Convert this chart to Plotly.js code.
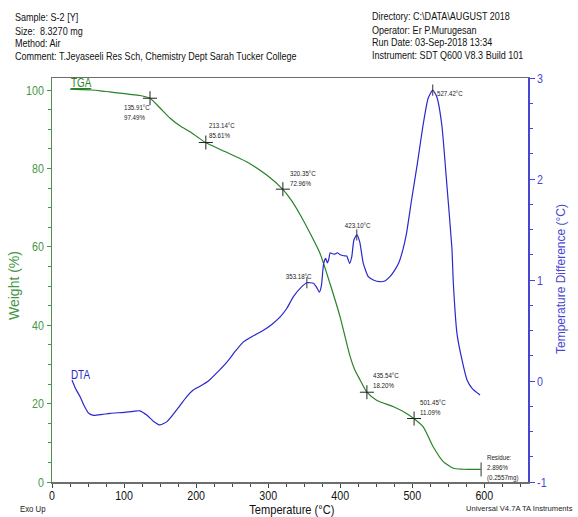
<!DOCTYPE html>
<html>
<head>
<meta charset="utf-8">
<script src="https://cdn.plot.ly/plotly-3.0.1.min.js"></script>
<style>html,body{margin:0;padding:0;background:#fff;}#chart{width:578px;height:517px;}</style>
</head>
<body>
<div id="chart"></div>
<script>
// ---- TGA (Weight %) ----
var tgaT = [25, 40, 55, 67, 80, 94, 108, 122, 136, 150, 164, 178, 191, 202, 213, 240, 270, 298, 320, 332, 345, 360, 372, 386, 400, 413, 420, 428, 437, 451, 474, 492, 502, 515, 529, 543, 557, 570, 595];
var tgaW = [100.2, 100.1, 100.0, 99.8, 99.5, 99.2, 98.9, 98.6, 97.9, 95.4, 92.8, 90.8, 89.4, 88.0, 86.6, 84.3, 81.7, 78.3, 74.7, 71.9, 68.0, 62.8, 58.3, 50.5, 42.0, 32.5, 28.7, 25.9, 22.9, 20.8, 19.2, 17.5, 16.2, 14.1, 9.0, 5.2, 3.5, 3.25, 3.2];

// ---- DTA (Temperature Difference °C) ----
var dtaT = [27.7, 33, 39, 45, 51, 58, 70, 81, 100, 113, 122, 132, 141, 150, 160, 173, 187, 196, 206, 217, 230, 243, 255, 266, 280, 294, 305, 317, 326, 335, 346, 354, 363, 367, 371, 374, 377, 380, 382, 384, 386, 389, 393, 396, 400, 405, 409, 413, 416, 419, 423, 427, 432, 439, 446, 455, 462, 469, 475, 481, 487, 492, 499, 507, 515, 522, 528.4, 534, 541, 548, 555, 557, 562, 569, 576, 583, 594];
var dtaV = [0.01, -0.08, -0.155, -0.25, -0.32, -0.34, -0.33, -0.32, -0.31, -0.30, -0.295, -0.34, -0.40, -0.435, -0.40, -0.287, -0.155, -0.09, -0.05, 0.0, 0.09, 0.19, 0.30, 0.39, 0.45, 0.505, 0.56, 0.637, 0.72, 0.835, 0.93, 0.973, 0.967, 0.93, 0.88, 0.95, 1.165, 1.215, 1.17, 1.2, 1.27, 1.26, 1.257, 1.27, 1.25, 1.24, 1.238, 1.165, 1.23, 1.396, 1.446, 1.38, 1.165, 1.033, 1.0, 0.983, 0.99, 1.033, 1.09, 1.165, 1.3, 1.462, 1.792, 2.15, 2.535, 2.8, 2.88, 2.815, 2.535, 1.941, 1.314, 0.967, 0.472, 0.208, 0.01, -0.072, -0.139];

// ---- TGA step marks ----
var markT = [136, 213.5, 320.4, 437, 502.5];
var markW = [97.9, 86.6, 74.7, 22.9, 16.2];
var markLabels = ["135.91°C<br>97.49%", "213.14°C<br>85.61%", "320.35°C<br>72.96%", "435.54°C<br>18.20%", "501.45°C<br>11.09%"];

// ---- Residue ----
var residueT = [595.5];
var residueW = [3.2];
var residueLabel = "Residue:<br>2.896%<br>(0.2557mg)";

// ---- DTA peaks ----
var peakT = [353.7, 423, 528.4];
var peakV = [0.973, 1.446, 2.88];
var peakLabels = ["353.18°C", "423.10°C", "527.42°C"];

// ---- Axis ticks ----
var xTicks = [0, 100, 200, 300, 400, 500, 600];
var yTicks = [0, 20, 40, 60, 80, 100];
var y2Ticks = [-1, 0, 1, 2, 3];

// ---- Header text ----
var headerLeft = ["Sample: S-2 [Y]", "Size:  8.3270 mg", "Method: Air", "Comment: T.Jeyaseeli Res Sch, Chemistry Dept Sarah Tucker College"];
var headerRight = ["Directory: C:\\DATA\\AUGUST 2018", "Operator: Er P.Murugesan", "Run Date: 03-Sep-2018 13:34", "Instrument: SDT Q600 V8.3 Build 101"];

var NARROW = "Liberation Sans, Arial, sans-serif";
var SANS = "Arial, Liberation Sans, sans-serif";
var GREEN = "rgb(40,130,40)";
var GREEN_AX = "rgb(70,150,70)";
var BLUE = "rgb(40,40,205)";
var BLUE_AX = "rgb(70,70,210)";

// style offsets (pixels) for labels
var markShift = [[-27.7, -14.7], [1, 11.8], [5, 10.5], [4, 11.5], [4.3, 11.3]];
var peakShift = [[-8, 6, "center"], [1, 9, "center"], [2, -3, "left"]];

var traces = [
  {x: tgaT, y: tgaW, type: "scatter", mode: "lines", line: {color: GREEN, width: 1.2, shape: "spline", smoothing: 0.6}, yaxis: "y", hoverinfo: "skip"},
  {x: dtaT, y: dtaV, type: "scatter", mode: "lines", line: {color: BLUE, width: 1.2, shape: "spline", smoothing: 0.5}, yaxis: "y2", hoverinfo: "skip"},
  {x: markT, y: markW, type: "scatter", mode: "markers", marker: {symbol: "cross-thin", size: 10, line: {color: "#222", width: 1}}, yaxis: "y"},
  {x: residueT, y: residueW, type: "scatter", mode: "markers", marker: {symbol: "line-ns", size: 10, line: {color: "#333", width: 1}}, yaxis: "y"},
  {x: peakT, y: peakV, type: "scatter", mode: "markers", marker: {symbol: "line-ns", size: 8, line: {color: "#333", width: 1}}, yaxis: "y2"}
];

var annotations = [];
function paperX(px) { return (px - 52) / 476; }
function paperY(py) { return (482 - py) / 404; }
var leftY = [17.5, 30.5, 43, 55.5];
for (var i = 0; i < headerLeft.length; i++) {
  annotations.push({xref: "paper", yref: "paper", x: paperX(12.5), y: paperY(leftY[i]), xanchor: "left", align: "left", yanchor: "middle", text: headerLeft[i], showarrow: false, font: {family: NARROW, size: 11, color: "#111"}});
  annotations.push({xref: "paper", yref: "paper", x: paperX(369.5), y: paperY(leftY[i] - 1), xanchor: "left", align: "left", yanchor: "middle", text: headerRight[i], showarrow: false, font: {family: NARROW, size: 11, color: "#111"}});
}
for (var j = 0; j < markT.length; j++) {
  annotations.push({x: markT[j], y: markW[j], xref: "x", yref: "y", text: markLabels[j], showarrow: false, xanchor: "left", yanchor: "middle", xshift: markShift[j][0], yshift: markShift[j][1], align: "left", font: {family: NARROW, size: 7.5, color: "#222"}});
}
annotations.push({x: residueT[0], y: residueW[0], xref: "x", yref: "y", text: residueLabel, showarrow: false, xanchor: "left", yanchor: "middle", xshift: 4, yshift: 2, align: "left", font: {family: NARROW, size: 7.5, color: "#222"}});
for (var k = 0; k < peakT.length; k++) {
  annotations.push({x: peakT[k], y: peakV[k], xref: "x", yref: "y2", text: peakLabels[k], showarrow: false, xanchor: peakShift[k][2], align: peakShift[k][2], yanchor: "middle", xshift: peakShift[k][0], yshift: peakShift[k][1], font: {family: NARROW, size: 7.5, color: "#222"}});
}
annotations.push({x: tgaT[0], y: tgaW[0], xref: "x", yref: "y", text: "<u>TGA</u>", showarrow: false, xanchor: "left", align: "left", yanchor: "bottom", xshift: -1, yshift: -3, font: {family: NARROW, size: 12, color: GREEN}});
annotations.push({x: dtaT[0], y: dtaV[0], xref: "x", yref: "y2", text: "DTA", showarrow: false, xanchor: "left", align: "left", yanchor: "middle", xshift: -3, yshift: 5, font: {family: NARROW, size: 12, color: BLUE}});
// axis titles
annotations.push({xref: "paper", yref: "paper", x: paperX(14), y: paperY(286), textangle: -90, text: "Weight (%)", showarrow: false, xanchor: "center", yanchor: "middle", font: {family: SANS, size: 14, color: GREEN_AX}});
annotations.push({xref: "paper", yref: "paper", x: paperX(561), y: paperY(279), textangle: -90, text: "Temperature Difference (°C)", showarrow: false, xanchor: "center", yanchor: "middle", font: {family: SANS, size: 12, color: BLUE_AX}});
annotations.push({xref: "paper", yref: "paper", x: paperX(292), y: paperY(509), text: "Temperature (°C)", showarrow: false, xanchor: "center", yanchor: "middle", font: {family: NARROW, size: 13.5, color: "#111"}});
annotations.push({xref: "paper", yref: "paper", x: paperX(18), y: paperY(508), text: "Exo Up", showarrow: false, xanchor: "left", align: "left", yanchor: "middle", font: {family: NARROW, size: 9.5, color: "#222"}});
annotations.push({xref: "paper", yref: "paper", x: paperX(575), y: paperY(508), text: "Universal V4.7A TA Instruments", showarrow: false, xanchor: "right", align: "right", yanchor: "middle", font: {family: SANS, size: 7.6, color: "#222"}});

var layout = {
  width: 578, height: 517,
  margin: {l: 52, r: 50, t: 78, b: 35, pad: 0},
  paper_bgcolor: "#fff", plot_bgcolor: "#fff",
  showlegend: false,
  xaxis: {
    range: [0, 660.6], tickvals: xTicks, ticktext: xTicks.map(String),
    showgrid: false, zeroline: false, showline: true, linecolor: "rgb(110,110,110)", linewidth: 1.5,
    mirror: true,
    ticks: "outside", ticklen: 4, tickcolor: "#444", tickwidth: 1, ticklabelstandoff: -3,
    minor: {dtick: 25, tick0: 0, ticks: "outside", ticklen: 3, tickcolor: "#444", showgrid: false},
    tickfont: {family: NARROW, size: 13, color: "#111"}
  },
  yaxis: {
    range: [0, 103.06], tickvals: yTicks, ticktext: yTicks.map(String),
    showgrid: false, zeroline: false, showline: true, linecolor: GREEN_AX, linewidth: 1.5,
    ticks: "outside", ticklen: 4, tickcolor: GREEN_AX, tickwidth: 1,
    minor: {dtick: 5, tick0: 0, ticks: "outside", ticklen: 3, tickcolor: GREEN_AX, showgrid: false},
    tickfont: {family: NARROW, size: 13, color: GREEN_AX}
  },
  yaxis2: {
    range: [-1, 3], overlaying: "y", side: "right", tickvals: y2Ticks, ticktext: y2Ticks.map(String),
    showgrid: false, zeroline: false, showline: true, linecolor: BLUE_AX, linewidth: 1.5,
    ticks: "outside", ticklen: 5, tickcolor: BLUE_AX, tickwidth: 1,
    minor: {dtick: 0.25, tick0: 0, ticks: "outside", ticklen: 3, tickcolor: BLUE_AX, showgrid: false},
    tickfont: {family: NARROW, size: 13, color: BLUE_AX}
  },
  annotations: annotations
};

// condense horizontal texts to mimic the narrow font of the original
function condense(gd, factor) {
  var skip = {"Weight (%)": 1, "Temperature Difference (°C)": 1, "Universal V4.7A TA Instruments": 1};
  var els = gd.querySelectorAll("text.annotation-text, .xtick text, .ytick text, .y2tick text");
  els.forEach(function (el) {
    if (skip[el.textContent]) return;
    var lines = el.querySelectorAll("tspan.line");
    var targets = lines.length ? Array.prototype.slice.call(lines) : [el];
    targets.forEach(function (t) {
      var len = t.getComputedTextLength();
      if (len > 0) {
        t.setAttribute("lengthAdjust", "spacingAndGlyphs");
        t.setAttribute("textLength", (len * factor).toFixed(2));
      }
    });
  });
}

Plotly.newPlot("chart", traces, layout, {displayModeBar: false, staticPlot: true}).then(function (gd) {
  condense(gd, 0.82);
});
</script>
</body>
</html>
